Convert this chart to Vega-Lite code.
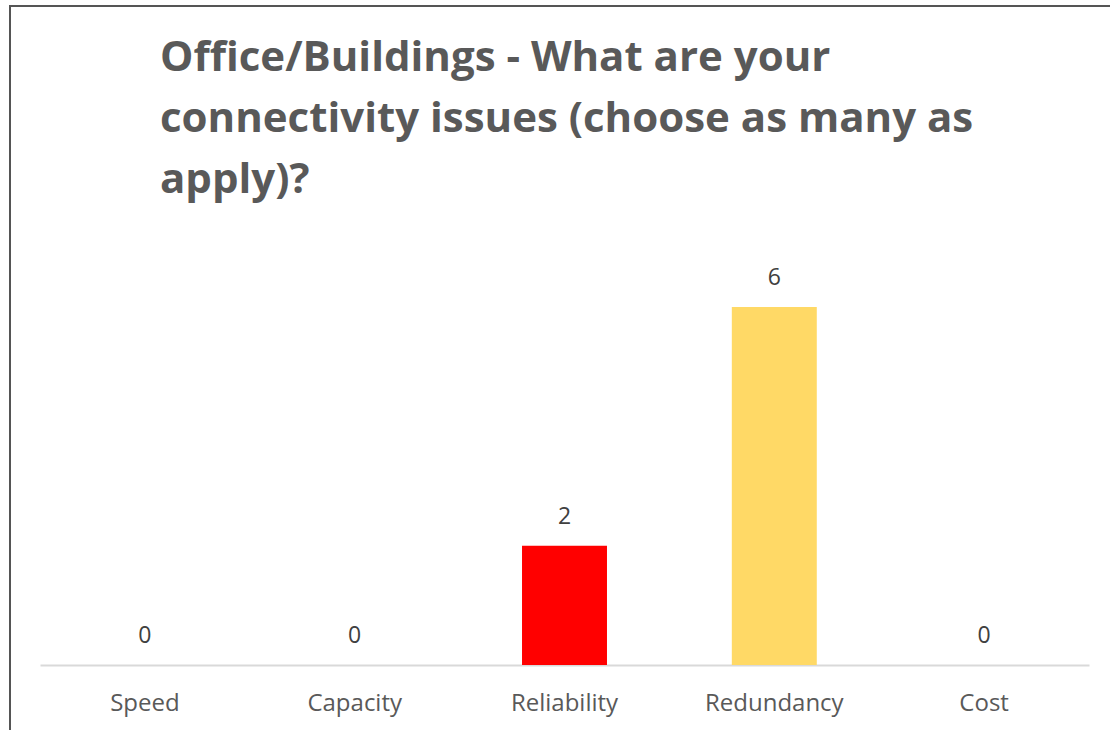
{
  "$schema": "https://vega.github.io/schema/vega-lite/v6.json",
  "autosize": {"type": "none"},
  "padding": {"left": 10, "top": 6, "right": 0, "bottom": 0},
  "width": 1110,
  "height": 730,
  "background": "white",
  "config": {
    "view": {"stroke": "#555555", "strokeWidth": 2},
    "font": "Open Sans"
  },
  "title": {
    "text": ["Office/Buildings - What are your", "connectivity issues (choose as many as", "apply)?"],
    "anchor": "start",
    "frame": "group",
    "orient": "top",
    "offset": -196,
    "dx": 150,
    "font": "Open Sans",
    "fontSize": 42,
    "fontWeight": "bold",
    "color": "#595959",
    "lineHeight": 61
  },
  "data": {
    "values": [
      {"issue": "Speed", "count": 0},
      {"issue": "Capacity", "count": 0},
      {"issue": "Reliability", "count": 2},
      {"issue": "Redundancy", "count": 6},
      {"issue": "Cost", "count": 0}
    ]
  },
  "encoding": {
    "x": {
      "field": "issue",
      "type": "nominal",
      "sort": ["Speed", "Capacity", "Reliability", "Redundancy", "Cost"],
      "scale": {"range": [30, 1079], "paddingInner": 0.595, "paddingOuter": 0.2975},
      "axis": {
        "title": null,
        "orient": "bottom",
        "offset": -71,
        "labelAngle": 0,
        "ticks": false,
        "grid": false,
        "domainColor": "#D9D9D9",
        "domainWidth": 2,
        "labelFont": "Open Sans",
        "labelFontSize": 24,
        "labelColor": "#595959",
        "labelPadding": 26
      }
    },
    "y": {
      "field": "count",
      "type": "quantitative",
      "scale": {"domain": [0, 6], "range": [659, 301]},
      "axis": null
    }
  },
  "layer": [
    {
      "mark": {"type": "bar"},
      "encoding": {
        "color": {
          "field": "issue",
          "type": "nominal",
          "scale": {
            "domain": ["Speed", "Capacity", "Reliability", "Redundancy", "Cost"],
            "range": ["#4472C4", "#ED7D31", "#FF0000", "#FFD966", "#5B9BD5"]
          },
          "legend": null
        }
      }
    },
    {
      "mark": {"type": "text", "baseline": "alphabetic", "dy": -22, "font": "Open Sans", "fontSize": 23, "color": "#404040"},
      "encoding": {
        "text": {"field": "count", "type": "quantitative"}
      }
    }
  ]
}
